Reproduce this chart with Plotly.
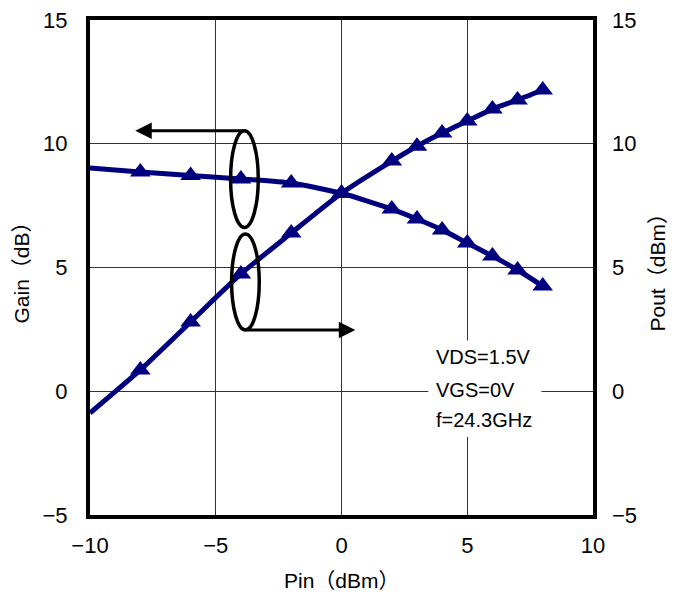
import plotly.graph_objects as go

pin = [-10, -8, -6, -4, -2, 0, 2, 3, 4, 5, 6, 7, 8]
gain = [9.02, 8.86, 8.72, 8.58, 8.41, 8.0, 7.36, 6.96, 6.52, 5.99, 5.46, 4.9, 4.25]
pout = [-0.88, 0.86, 2.8, 4.74, 6.39, 8.0, 9.3, 9.9, 10.43, 10.92, 11.4, 11.77, 12.17]
marker_sizes = [0] + [18] * 12

yticks = [-5, 0, 5, 10, 15]
ytick_text = ["\u22125", "0", "5", "10", "15"]
xticks = [-10, -5, 0, 5, 10]
xtick_text = ["\u221210", "\u22125", "0", "5", "10"]
notes = ["VDS=1.5V", "VGS=0V", "f=24.3GHz"]
note_y = [1.38, 0.05, -1.16]

FONT = "Liberation Sans, Noto Sans CJK JP, sans-serif"
NAVY = "#00007F"

fig = go.Figure()
for yy, ax in ((gain, "y"), (pout, "y2")):
    fig.add_trace(go.Scatter(x=pin, y=yy, mode="lines+markers", yaxis=ax,
                             line=dict(color=NAVY, width=5, shape="spline", smoothing=0.6),
                             marker=dict(symbol="triangle-up", size=marker_sizes, color=NAVY,
                                         line=dict(width=0), opacity=1),
                             showlegend=False))

shapes = [
    dict(type="rect", xref="x", yref="y", x0=3.45, x1=7.95, y0=-1.85, y1=2.05,
         fillcolor="white", line=dict(width=0), layer="between"),
    dict(type="circle", xref="x", yref="y", x0=-4.41, x1=-3.31, y0=6.62, y1=10.53,
         line=dict(color="black", width=3.5)),
    dict(type="circle", xref="x", yref="y", x0=-4.37, x1=-3.27, y0=2.47, y1=6.35,
         line=dict(color="black", width=3.5)),
]

annotations = [
    dict(x=-8.2, y=10.53, ax=-3.86, ay=10.53, xref="x", yref="y", axref="x", ayref="y",
         showarrow=True, arrowhead=2, arrowsize=1.1, arrowwidth=3, arrowcolor="black", text=""),
    dict(x=0.55, y=2.47, ax=-3.82, ay=2.47, xref="x", yref="y", axref="x", ayref="y",
         showarrow=True, arrowhead=2, arrowsize=1.1, arrowwidth=3, arrowcolor="black", text=""),
]
for t, yy in zip(notes, note_y):
    annotations.append(dict(x=3.68, y=yy, xref="x", yref="y", text=t, showarrow=False,
                            xanchor="left", yanchor="middle",
                            font=dict(family=FONT, size=20, color="black")))

# axis titles
annotations += [
    dict(x=(13 - 82) / 503, y=0.5, xref="paper", yref="paper", text="Gain\uff08dB\uff09", textangle=-90,
         showarrow=False, xanchor="center", yanchor="middle",
         font=dict(family=FONT, size=21, color="black")),
    dict(x=(649 - 82) / 503, y=0.5, xref="paper", yref="paper", text="Pout\uff08dBm\uff09", textangle=-90,
         showarrow=False, xanchor="center", yanchor="middle",
         font=dict(family=FONT, size=21, color="black")),
    dict(x=0.5, y=-65 / 495, xref="paper", yref="paper", text="Pin\uff08dBm\uff09",
         showarrow=False, xanchor="center", yanchor="middle",
         font=dict(family=FONT, size=21, color="black")),
]

axis_common = dict(range=[-5, 15], tickvals=yticks, ticktext=ytick_text,
                   tickfont=dict(family=FONT, size=22, color="black"),
                   zeroline=False, ticks="", automargin=False, fixedrange=True,
                   ticklabeloverflow="allow")

fig.update_layout(
    width=660, height=584,
    margin=dict(l=82, r=75, t=12, b=77, autoexpand=False),
    paper_bgcolor="white", plot_bgcolor="white",
    xaxis=dict(range=[-10, 10], tickvals=xticks, ticktext=xtick_text,
               tickfont=dict(family=FONT, size=22, color="black"),
               showgrid=True, gridcolor="#333333", gridwidth=1, zeroline=False,
               showline=True, linecolor="black", linewidth=4, mirror=True,
               ticks="", automargin=False, fixedrange=True, ticklabelstandoff=8,
               ticklabeloverflow="allow"),
    yaxis=dict(**axis_common, showgrid=True, gridcolor="#333333", gridwidth=1,
               showline=True, linecolor="black", linewidth=4, mirror=True,
               ticklabelstandoff=14),
    yaxis2=dict(**axis_common, showgrid=False, overlaying="y", side="right",
                ticklabelstandoff=18),
    shapes=shapes, annotations=annotations,
)

fig.write_html("out.html")
